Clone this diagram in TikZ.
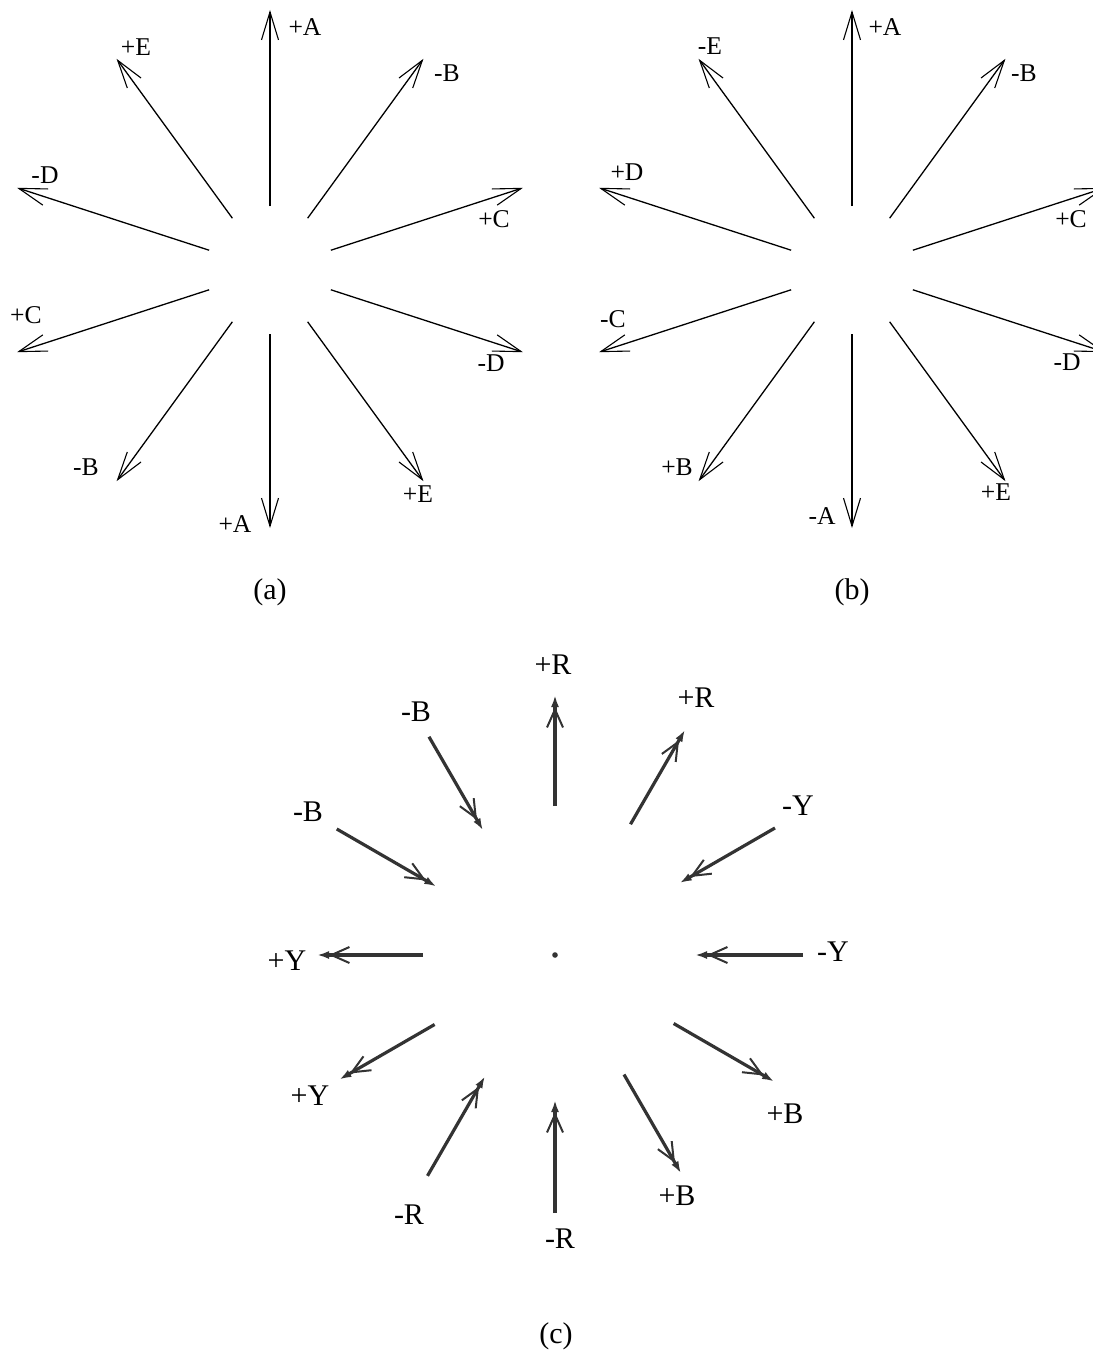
\documentclass[tikz,border=0pt]{standalone}
\usepackage{fontspec}
\setmainfont{Liberation Serif}
\usetikzlibrary{arrows.meta}
\tikzset{
  thinvec/.style={line width=0.65pt, -{Straight Barb[length=14pt,width=8.5pt,line width=0.55pt]}},
  thickvec/.style={line width=1.6pt, black!80, -{Straight Barb[length=9pt,width=8pt,line width=1pt] Latex[length=6pt,width=4pt]}},
  lab/.style={font=\fontsize{12.8}{13}\selectfont, inner sep=0pt},
  biglab/.style={font=\fontsize{15}{16}\selectfont, inner sep=0pt},
  caption/.style={font=\fontsize{15}{16}\selectfont, inner sep=0pt},
}
\begin{document}
\begin{tikzpicture}[x=0.5pt, y=0.5pt]
  \useasboundingbox (0,0) rectangle (1092,-1354);
  % (a)
  \begin{scope}[shift={(270,-270)}]
    \foreach \ang/\r/\txt/\lx/\ly [count=\i] in {90/260/+A/35/243, 54/261/-B/177/197,
        18/266/+C/224/51, -18/266/-D/221/-93, -54/261/+E/148/-224, -90/258/+A/-35/-254,
        -126/261/-B/-184/-197, -162/266/+C/-244/-45, 162/266/-D/-225/95, 126/261/+E/-134/223}{
      \coordinate (a-in-\i) at (\ang:64);
      \coordinate (a-out-\i) at (\ang:\r);
      \draw[thinvec] (a-in-\i) -- (a-out-\i);
      \node[lab] (a-lab-\i) at (\lx,\ly) {\txt};
    }
  \end{scope}
  % (b)
  \begin{scope}[shift={(852,-270)}]
    \foreach \ang/\r/\txt/\lx/\ly [count=\i] in {90/260/+A/33/243, 54/261/-B/172/197,
        18/266/+C/219/51, -18/266/-D/215/-92, -54/261/+E/144/-222, -90/258/-A/-30/-246,
        -126/261/+B/-175/-197, -162/266/-C/-239/-49, 162/266/+D/-225/98, 126/261/-E/-142/224}{
      \coordinate (b-in-\i) at (\ang:64);
      \coordinate (b-out-\i) at (\ang:\r);
      \draw[thinvec] (b-in-\i) -- (b-out-\i);
      \node[lab] (b-lab-\i) at (\lx,\ly) {\txt};
    }
  \end{scope}
  % (c)
  \begin{scope}[shift={(555,-955)}]
    \fill[black!80] (0,0) coordinate (c-mid) circle[radius=1.4pt];
    \foreach \ang/\txt/\rs/\re/\lx/\ly [count=\i] in {90/+R/149/260/-2/290,
        60/+R/151/260/141/257, 30/-Y/254/144/243/149, 0/-Y/248/140/278/3,
        -30/+B/137/253/230/-159, -60/+B/138/252/122/-241, -90/-R/258/145/5/-284,
        -120/-R/255/140/-146/-260, -150/+Y/139/249/-245/-141, 180/+Y/132/238/-268/-6,
        150/-B/252/137/-247/143, 120/-B/252/144/-139/243}{
      \coordinate (c-s-\i) at (\ang:\rs);
      \coordinate (c-e-\i) at (\ang:\re);
      \draw[thickvec] (c-s-\i) -- (c-e-\i);
      \node[biglab] (c-lab-\i) at (\lx,\ly) {\txt};
    }
  \end{scope}
  \node[caption] (cap-a) at (270,-592) {(a)};
  \node[caption] (cap-b) at (852,-592) {(b)};
  \node[caption] (cap-c) at (556,-1336) {(c)};
\end{tikzpicture}
\end{document}
